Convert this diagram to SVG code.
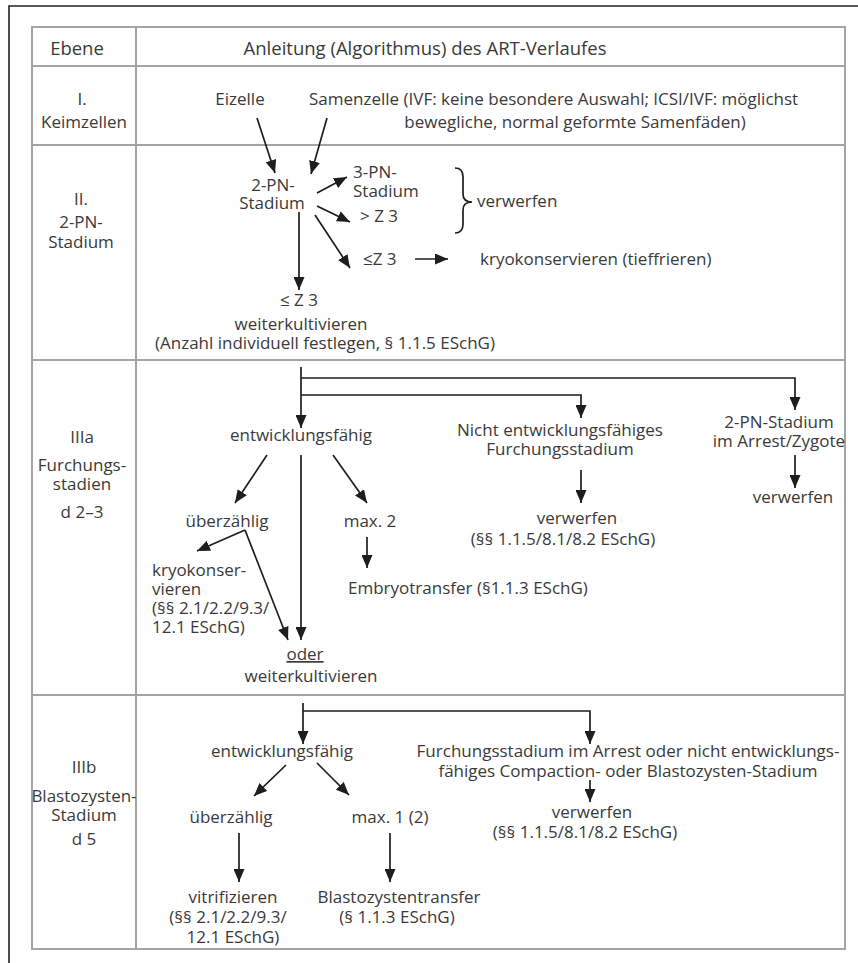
<svg xmlns="http://www.w3.org/2000/svg" width="858" height="963" viewBox="0 0 858 963">
<style>
text{font-family:'Open Sans','Noto Sans','Liberation Sans',sans-serif;font-size:17px;fill:#3a3a3a}
.m{text-anchor:middle}
.h{font-size:18.5px}
.grid{stroke:#a4a4a4;stroke-width:2;fill:none}
.frame{stroke:#222;stroke-width:1.6;fill:none}
.c{stroke:#1e1e1e;stroke-width:1.7;fill:none}
.a{marker-end:url(#ah)}
</style>
<defs>
<marker id="ah" viewBox="0 0 13 11" refX="13" refY="5.5" markerWidth="13" markerHeight="11" orient="auto" markerUnits="userSpaceOnUse">
<path d="M0,0 L13,5.5 L0,11 z" fill="#1e1e1e"/>
</marker>
</defs>
<rect width="858" height="963" fill="#fff"/>
<g id="frame">
<path class="frame" d="M9,963 V6 H858"/>
<rect class="grid" x="32" y="27" width="813" height="922"/>
<path class="grid" d="M136,27 V949 M32,66 H845 M32,145 H845 M32,360 H845 M32,695 H845"/>
</g>
<g id="header">
<text class="m h" x="77" y="55">Ebene</text>
<text class="m h" x="425" y="55">Anleitung (Algorithmus) des ART-Verlaufes</text>
</g>
<g id="labels">
<text class="m" x="82" y="105">I.</text>
<text class="m" x="84" y="128">Keimzellen</text>
<text class="m" x="81" y="205">II.</text>
<text class="m" x="81" y="228">2-PN-</text>
<text class="m" x="81" y="248">Stadium</text>
<text class="m" x="82" y="443">IIIa</text>
<text class="m" x="82" y="471">Furchungs-</text>
<text class="m" x="82" y="490">stadien</text>
<text class="m" x="82" y="518">d 2–3</text>
<text class="m" x="84" y="773">IIIb</text>
<text class="m" x="84" y="802">Blastozysten-</text>
<text class="m" x="84" y="821">Stadium</text>
<text class="m" x="84" y="845">d 5</text>
</g>
<g id="eizelle"><text class="m" x="240" y="105">Eizelle</text></g>
<g id="samenzelle">
<text x="309" y="105">Samenzelle (IVF: keine besondere Auswahl; ICSI/IVF: möglichst</text>
<text class="m" x="575" y="128">bewegliche, normal geformte Samenfäden)</text>
</g>
<g id="pn2"><text class="m" x="273" y="191">2-PN-</text><text class="m" x="272" y="209">Stadium</text></g>
<g id="pn3"><text x="353" y="178">3-PN-</text><text x="353" y="197">Stadium</text></g>
<g id="gtz3"><text x="360" y="222">&gt; Z 3</text></g>
<g id="verwerfen1">
<path class="c" d="M455,168 Q463,168 463,177 V194 Q463,202 472,202 Q463,202 463,210 V224 Q463,233 455,233"/>
<text x="477" y="207">verwerfen</text>
</g>
<g id="lez3a"><text x="363" y="265">≤Z 3</text></g>
<g id="kryo1"><text x="480" y="265">kryokonservieren (tieffrieren)</text></g>
<g id="lez3b">
<text class="m" x="299" y="306">≤ Z 3</text>
<text class="m" x="301" y="330">weiterkultivieren</text>
<text class="m" x="325" y="349">(Anzahl individuell festlegen, § 1.1.5 ESchG)</text>
</g>
<g id="ef1"><text class="m" x="301" y="441">entwicklungsfähig</text></g>
<g id="nef1"><text class="m" x="560" y="436">Nicht entwicklungsfähiges</text><text class="m" x="560" y="455">Furchungsstadium</text></g>
<g id="arrest1"><text class="m" x="779" y="428">2-PN-Stadium</text><text class="m" x="779" y="447">im Arrest/Zygote</text></g>
<g id="verwerfen2"><text class="m" x="793" y="503">verwerfen</text></g>
<g id="verwerfen3"><text class="m" x="577" y="524">verwerfen</text><text class="m" x="563" y="545">(§§ 1.1.5/8.1/8.2 ESchG)</text></g>
<g id="ueber1"><text class="m" x="227" y="527">überzählig</text></g>
<g id="max2"><text class="m" x="370" y="527">max. 2</text></g>
<g id="et"><text x="348" y="594">Embryotransfer (§1.1.3 ESchG)</text></g>
<g id="kryo2">
<text x="152" y="576">kryokonser-</text>
<text x="152" y="595">vieren</text>
<text x="152" y="614">(§§ 2.1/2.2/9.3/</text>
<text x="152" y="633">12.1 ESchG)</text>
</g>
<g id="oder">
<text class="m" x="305" y="660" text-decoration="underline">oder</text>
<text class="m" x="311" y="682">weiterkultivieren</text>
</g>
<g id="ef2"><text class="m" x="282" y="757">entwicklungsfähig</text></g>
<g id="nef2">
<text class="m" x="628" y="757">Furchungsstadium im Arrest oder nicht entwicklungs-</text>
<text class="m" x="628" y="777">fähiges Compaction- oder Blastozysten-Stadium</text>
</g>
<g id="verwerfen4"><text class="m" x="592" y="818">verwerfen</text><text class="m" x="585" y="838">(§§ 1.1.5/8.1/8.2 ESchG)</text></g>
<g id="ueber2"><text class="m" x="231" y="823">überzählig</text></g>
<g id="max1"><text class="m" x="390" y="823">max. 1 (2)</text></g>
<g id="vitri">
<text class="m" x="233" y="903">vitrifizieren</text>
<text class="m" x="228" y="923">(§§ 2.1/2.2/9.3/</text>
<text class="m" x="233" y="943">12.1 ESchG)</text>
</g>
<g id="blasto"><text class="m" x="399" y="903">Blastozystentransfer</text><text class="m" x="397" y="923">(§ 1.1.3 ESchG)</text></g>
<g id="connectors">
<path class="c a" d="M257,118 L275,173"/>
<path class="c a" d="M327,118 L311,174"/>
<path class="c a" d="M317,193 L347,177"/>
<path class="c a" d="M317,206 L350,222"/>
<path class="c a" d="M315,215 L350,268"/>
<path class="c a" d="M415,259 L448,259"/>
<path class="c a" d="M299,212 L299,290"/>
<path class="c a" d="M301,367 L301,428"/>
<path class="c a" d="M301,378 H795 V410"/>
<path class="c a" d="M301,395 H581 V418"/>
<path class="c a" d="M267,455 L235,503"/>
<path class="c a" d="M333,455 L367,503"/>
<path class="c a" d="M301,455 L301,640"/>
<path class="c a" d="M245,530 L197,551"/>
<path class="c a" d="M245,530 L288,640"/>
<path class="c a" d="M367,537 L367,568"/>
<path class="c a" d="M581,470 L581,503"/>
<path class="c a" d="M795,455 L795,488"/>
<path class="c a" d="M303,703 L303,744"/>
<path class="c a" d="M303,711 H590 V744"/>
<path class="c a" d="M286,765 L254,796"/>
<path class="c a" d="M317,763 L349,795"/>
<path class="c a" d="M590,780 L590,802"/>
<path class="c a" d="M239,833 L239,882"/>
<path class="c a" d="M390,833 L390,882"/>
</g>
</svg>
